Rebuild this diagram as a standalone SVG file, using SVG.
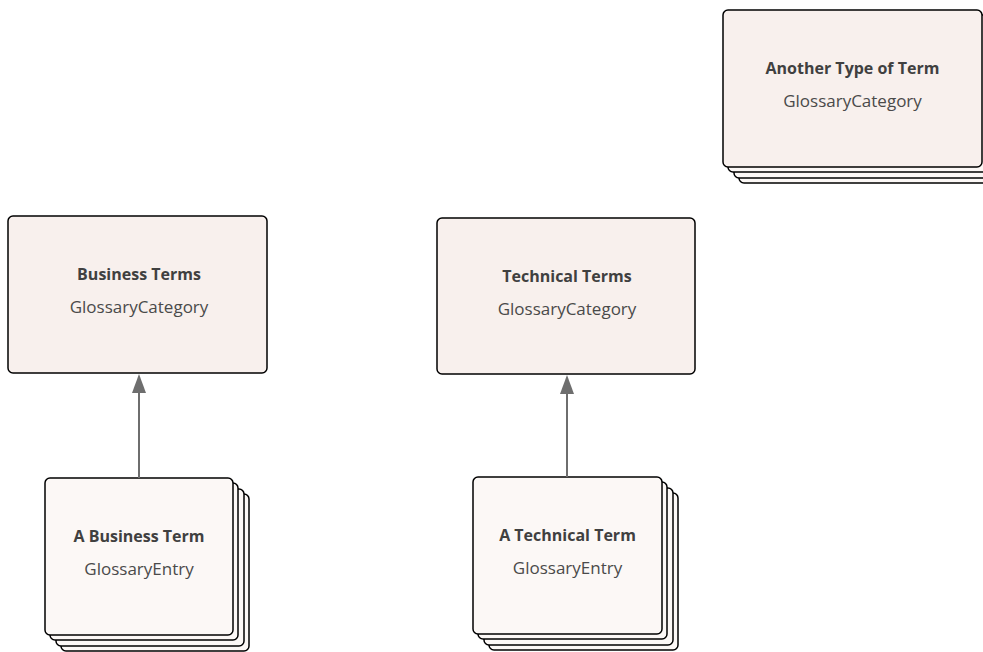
<svg xmlns="http://www.w3.org/2000/svg" width="983" height="652" viewBox="0 0 983 652">
<style>
.cat{fill:#F8F0ED;stroke:#000;stroke-width:1.5}
.ent{fill:#FCF8F6;stroke:#000;stroke-width:1.5}
.lay{fill:#FCF8F6;stroke:#000;stroke-width:1.5}
.t{font-family:"Open Sans","Noto Sans",sans-serif;font-size:16px;font-weight:bold;fill:#404040;text-anchor:middle}
.s{font-family:"Open Sans","Noto Sans",sans-serif;font-size:17px;fill:#4a4a4a;text-anchor:middle}
.c{stroke:#6e6e6e;stroke-width:2;fill:none}
</style>
<g id="another">
<rect class="lay" x="739" y="26" width="259" height="157" rx="5"/>
<rect class="lay" x="734" y="21" width="259" height="157" rx="5"/>
<rect class="lay" x="728" y="15" width="259" height="157" rx="5"/>
<rect class="cat" x="723" y="10" width="259" height="157" rx="5"/>
<text class="t" x="852.5" y="74">Another Type of Term</text>
<text class="s" x="852.5" y="107">GlossaryCategory</text>
</g>
<g id="business-terms">
<rect class="cat" x="8" y="216" width="259" height="157" rx="5"/>
<text class="t" x="139" y="280">Business Terms</text>
<text class="s" x="139" y="313">GlossaryCategory</text>
</g>
<g id="technical-terms">
<rect class="cat" x="437" y="218" width="258" height="156" rx="5"/>
<text class="t" x="567" y="282">Technical Terms</text>
<text class="s" x="567" y="315">GlossaryCategory</text>
</g>
<g id="a-business-term">
<rect class="lay" x="61" y="494" width="188" height="157" rx="5"/>
<rect class="lay" x="56" y="489" width="188" height="157" rx="5"/>
<rect class="lay" x="50" y="483" width="188" height="157" rx="5"/>
<rect class="ent" x="45" y="478" width="188" height="157" rx="5"/>
<text class="t" x="139" y="542">A Business Term</text>
<text class="s" x="139" y="575">GlossaryEntry</text>
</g>
<g id="a-technical-term">
<rect class="lay" x="489" y="493" width="189" height="157" rx="5"/>
<rect class="lay" x="484" y="488" width="189" height="157" rx="5"/>
<rect class="lay" x="478" y="482" width="189" height="157" rx="5"/>
<rect class="ent" x="473" y="477" width="189" height="157" rx="5"/>
<text class="t" x="567.5" y="541">A Technical Term</text>
<text class="s" x="567.5" y="574">GlossaryEntry</text>
</g>
<g id="connectors">
<line class="c" x1="139" y1="478" x2="139" y2="393"/>
<path d="M139 374 L146 393 L132 393 Z" fill="#6e6e6e"/>
<line class="c" x1="567" y1="477" x2="567" y2="393"/>
<path d="M567 375 L574 394 L560 394 Z" fill="#6e6e6e"/>
</g>
</svg>
